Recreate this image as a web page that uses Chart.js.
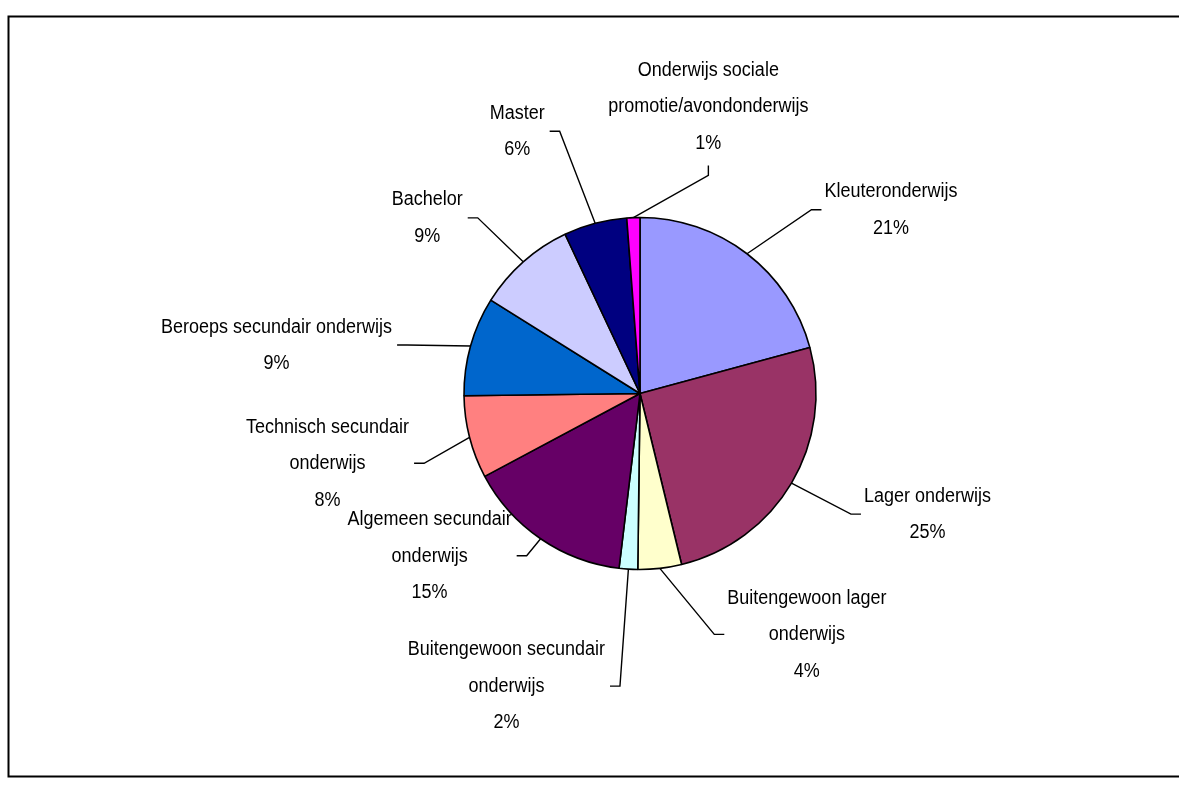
<!DOCTYPE html>
<html>
<head>
<meta charset="utf-8">
<script src="https://cdn.jsdelivr.net/npm/chart.js@4"></script>
<style>
  body { margin: 0; background: #fff; overflow: hidden; }
</style>
</head>
<body>
<canvas id="myChart" width="1179" height="812"></canvas>
<script>
// categories, clockwise from 12 o'clock
const categories = [
  ["Kleuteronderwijs"],
  ["Lager onderwijs"],
  ["Buitengewoon lager", "onderwijs"],
  ["Buitengewoon secundair", "onderwijs"],
  ["Algemeen secundair", "onderwijs"],
  ["Technisch secundair", "onderwijs"],
  ["Beroeps secundair onderwijs"],
  ["Bachelor"],
  ["Master"],
  ["Onderwijs sociale", "promotie/avondonderwijs"],
];
// share of each slice (%)
const shares = [20.8, 25.4, 4.0, 1.7, 15.3, 7.6, 9.1, 9.1, 5.8, 1.2];
const sliceColors = [
  "#9999FF", "#993366", "#FFFFCC", "#CCFFFF", "#660066",
  "#FF8080", "#0066CC", "#CCCCFF", "#000080", "#FF00FF",
];
// where each data label sits, relative to the point on the rim at the slice's middle
const labelOffsets = [
  [144, -44], [136, 31], [147, 66], [-122, 117], [-111, 17],
  [-142, 26], [-194, -1], [-96, -44], [-78, -92], [75, -111],
];

const ctx = document.getElementById("myChart");
const lineH = 36.5;
const stretchY = 1.17;

const labelPlugin = {
  id: "excelLabels",
  afterDraw(chart) {
    const c = chart.ctx;
    const arcs = chart.getDatasetMeta(0).data;
    const total = shares.reduce((a, b) => a + b, 0);
    c.save();
    c.font = '18px "Liberation Sans", Arial, sans-serif';
    c.fillStyle = "#000";
    c.strokeStyle = "#000";
    c.lineWidth = 1.4;
    c.textAlign = "center";
    c.textBaseline = "middle";
    arcs.forEach((arc, i) => {
      const mid = (arc.startAngle + arc.endAngle) / 2;
      const ax = arc.x + Math.cos(mid) * arc.outerRadius;
      const ay = arc.y + Math.sin(mid) * arc.outerRadius;
      const cx = ax + labelOffsets[i][0];
      const cy = ay + labelOffsets[i][1];
      const lines = categories[i].concat([Math.round((shares[i] / total) * 100) + "%"]);
      const w = Math.max(...lines.map((l) => c.measureText(l).width));
      const h = lines.length * lineH;

      // leader line
      let ex, ey, bx, by;
      if (ax > cx - w / 2 && ax < cx + w / 2) {
        ex = cx;
        ey = cy + h / 2 + 4;
        bx = ex;
        by = ey + 10;
      } else if (ax > cx) {
        ex = cx + w / 2 + 5;
        ey = cy;
        bx = ex + 10;
        by = ey;
      } else {
        ex = cx - w / 2 - 3;
        ey = cy;
        bx = ex - 10;
        by = ey;
      }
      c.beginPath();
      c.moveTo(ax, ay);
      c.lineTo(bx, by);
      c.lineTo(ex, ey);
      c.stroke();

      lines.forEach((line, k) => {
        const ly = cy + (k - (lines.length - 1) / 2) * lineH;
        c.save();
        c.translate(cx, ly);
        c.scale(1, stretchY);
        c.fillText(line, 0, 0);
        c.restore();
      });
    });

    // outer frame
    c.lineWidth = 2;
    c.strokeRect(8.5, 16.5, 1200, 760);
    c.restore();
  },
};

new Chart(ctx, {
  type: "pie",
  data: {
    labels: categories,
    datasets: [
      {
        data: shares,
        backgroundColor: sliceColors,
        borderColor: "#000",
        borderWidth: 1.6,
        radius: 176,
      },
    ],
  },
  options: {
    responsive: false,
    animation: false,
    devicePixelRatio: 1,
    layout: { padding: { left: 101, right: 0, top: 0, bottom: 25 } },
    plugins: {
      legend: { display: false },
      tooltip: { enabled: false },
    },
  },
  plugins: [labelPlugin],
});
</script>
</body>
</html>
